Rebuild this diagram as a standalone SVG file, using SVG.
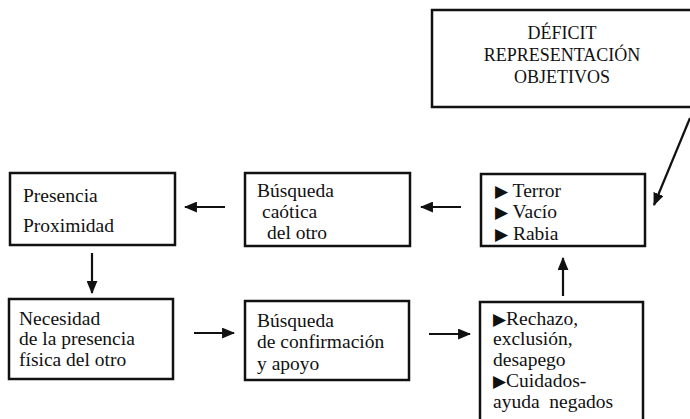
<svg xmlns="http://www.w3.org/2000/svg" width="690" height="419" viewBox="0 0 690 419">
  <style>
    .box { fill: #ffffff; stroke: #111111; stroke-width: 2.5; }
    .lbl { font-family: 'Liberation Serif', 'Times New Roman', 'DejaVu Serif', serif; font-size: 19.5px; fill: #111111; }
    .title { font-family: 'Liberation Serif', 'Times New Roman', 'DejaVu Serif', serif; font-size: 18px; fill: #111111; text-anchor: middle; }
    .bul { font-family: 'DejaVu Sans', sans-serif; font-size: 17px; }
    .conn { stroke: #111111; stroke-width: 2.2; fill: none; marker-end: url(#head); }
  </style>
  <defs>
    <marker id="head" viewBox="0 0 12 10" refX="11" refY="5" markerUnits="userSpaceOnUse" markerWidth="13" markerHeight="11" orient="auto">
      <path d="M0,0 L12,5 L0,10 Z" fill="#111111"/>
    </marker>
  </defs>
  <rect width="690" height="419" fill="#ffffff"/>

  <g id="deficit">
    <rect class="box" x="432" y="10" width="264" height="97"/>
    <text class="title" x="562" y="39">DÉFICIT</text>
    <text class="title" x="562" y="61">REPRESENTACIÓN</text>
    <text class="title" x="562" y="83">OBJETIVOS</text>
  </g>

  <g id="presencia">
    <rect class="box" x="10" y="173" width="165" height="72"/>
    <text class="lbl" x="23" y="202">Presencia</text>
    <text class="lbl" x="23" y="232">Proximidad</text>
  </g>

  <g id="busqueda-caotica">
    <rect class="box" x="245" y="173" width="165" height="73"/>
    <text class="lbl" x="257" y="197">Búsqueda</text>
    <text class="lbl" x="262" y="218">caótica</text>
    <text class="lbl" x="267" y="239">del otro</text>
  </g>

  <g id="emociones">
    <rect class="box" x="481" y="174" width="164" height="72"/>
    <text class="lbl" x="495" y="197"><tspan class="bul">▶</tspan> Terror</text>
    <text class="lbl" x="495" y="218"><tspan class="bul">▶</tspan> Vacío</text>
    <text class="lbl" x="495" y="240"><tspan class="bul">▶</tspan> Rabia</text>
  </g>

  <g id="necesidad">
    <rect class="box" x="9" y="299" width="164" height="80"/>
    <text class="lbl" x="19" y="325">Necesidad</text>
    <text class="lbl" x="19" y="345">de la presencia</text>
    <text class="lbl" x="19" y="366">física del otro</text>
  </g>

  <g id="busqueda-confirmacion">
    <rect class="box" x="245" y="301" width="164" height="79"/>
    <text class="lbl" x="257" y="327">Búsqueda</text>
    <text class="lbl" x="257" y="348">de confirmación</text>
    <text class="lbl" x="257" y="370">y apoyo</text>
  </g>

  <g id="rechazo">
    <rect class="box" x="480" y="302" width="163" height="125"/>
    <text class="lbl" x="493" y="325"><tspan class="bul">▶</tspan>Rechazo,</text>
    <text class="lbl" x="493" y="345">exclusión,</text>
    <text class="lbl" x="493" y="366">desapego</text>
    <text class="lbl" x="493" y="387"><tspan class="bul">▶</tspan>Cuidados-</text>
    <text class="lbl" x="493" y="408" xml:space="preserve">ayuda  negados</text>
  </g>

  <g id="connectors">
    <line class="conn" x1="690" y1="118" x2="654" y2="205"/>
    <line class="conn" x1="461" y1="207" x2="421" y2="207"/>
    <line class="conn" x1="225" y1="207" x2="185" y2="207"/>
    <line class="conn" x1="92" y1="253" x2="92" y2="293"/>
    <line class="conn" x1="194" y1="333" x2="234" y2="333"/>
    <line class="conn" x1="429" y1="334" x2="470" y2="334"/>
    <line class="conn" x1="563" y1="296" x2="563" y2="258"/>
  </g>
</svg>
